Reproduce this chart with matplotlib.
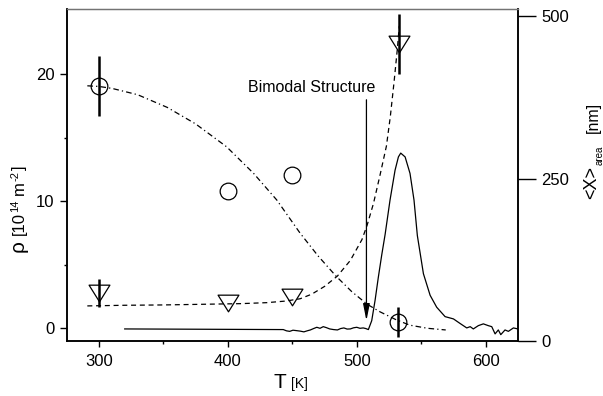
import numpy as np
import matplotlib
matplotlib.use("Agg")
import matplotlib.pyplot as plt
from matplotlib.path import Path

plt.rcParams['font.family'] = ['Liberation Sans', 'DejaVu Sans']

W, H = 603, 396

# ---- data ----
# density rho [10^14 m^-2] (open circles, left axis)
rho_T = [300, 400, 450, 532]
rho_val = [19.1, 10.8, 12.1, 0.5]
rho_err = [2.35, 0.0, 0.0, 1.2]

# mean size <X>_area [nm] (open down-triangles, right axis)
size_T = [300, 400, 450, 533]
size_val = [74, 59, 67, 457]
size_err = [22, 0, 0, 46]

# dash-dot guide through rho (left axis)
rho_fit_T = [291, 300, 310, 330, 353, 375, 399, 420, 438, 456, 470, 484, 496,
             508, 518, 530, 541, 555, 569]
rho_fit_v = [19.1, 19.05, 18.9, 18.4, 17.4, 16.1, 14.3, 12.2, 10.1, 7.5, 5.7,
             4.1, 2.9, 1.9, 1.3, 0.7, 0.25, 0.0, -0.13]

# dashed guide through <X>_area (right axis)
size_fit_T = [291, 320, 350, 380, 410, 430, 445, 456, 465, 475, 485, 495, 504,
              508, 513, 518, 523, 526, 529, 531.5, 533]
size_fit_v = [54, 55, 55.5, 56.5, 57.5, 59, 61.5, 65, 72, 84, 100, 124, 156,
              178, 212, 255, 300, 345, 400, 450, 485]

# measured signal (solid line, left axis scale)
sig_T = [320, 443, 445.5, 448, 450.5, 453, 456, 459, 461.5, 464, 466.5, 469,
         471.5, 474, 476.5, 479, 482, 485, 487.5, 490, 492.5, 495, 497.5, 500,
         502.5, 505, 507, 509, 511.6, 514.2, 516.7, 519.4, 522, 525.8, 529.7,
         532.3, 534.1, 537.5, 541.3, 544.4, 547, 551.7, 556.9, 562, 568.5, 575,
         580, 585.3, 588, 590.4, 594.3, 598.2, 602, 604.7, 607.3, 609.8, 611.7,
         615, 617.6, 621.5, 625]
sig_v = [-0.05, -0.1, -0.2, -0.24, -0.15, -0.18, -0.22, -0.28, -0.2, -0.13,
         -0.02, 0.08, 0.0, 0.13, 0.05, -0.05, -0.1, -0.13, -0.02, 0.03, -0.06,
         -0.05, 0.04, 0.08, 0.0, 0.03, -0.02, -0.1, 0.6, 2.2, 4.0, 5.8, 7.4,
         10.1, 12.45, 13.5, 13.8, 13.5, 12.2, 10.1, 7.3, 4.3, 2.6, 1.66, 0.92,
         0.74, 0.39, 0.03, 0.13, -0.05, 0.21, 0.35, 0.21, 0.13, -0.44, -0.13,
         -0.5, -0.13, -0.24, 0.03, -0.05]

x_ticks = [300, 400, 500, 600]
x_minor = [350, 450, 550]
rho_ticks = [0, 10, 20]
rho_minor = [5, 15]
size_ticks = [0, 250, 500]

arrow_T = 507.5
arrow_from = 18.0
arrow_to = 0.6
note = "Bimodal Structure"

# ---- figure ----
fig = plt.figure(figsize=(W / 100, H / 100), dpi=100)
L, R, B, T_ = 66.7, 518.3, 341, 9
ax = fig.add_axes([L / W, 1 - B / H, (R - L) / W, (B - T_) / H])
ax2 = ax.twinx()

ax.set_xlim(275, 625.3)
ax.set_ylim(-1.0, 25.15)
ax2.set_ylim(0, 511)

# signal
ax.plot(sig_T, sig_v, color='k', lw=0.9, zorder=2)
# guides
ax.plot(rho_fit_T, rho_fit_v, color='k', lw=0.9, dashes=(4.5, 2.5, 1.0, 2.5), zorder=2)
ax2.plot(size_fit_T, size_fit_v, color='k', lw=0.9, dashes=(4, 3), zorder=2)

# circles
rt = np.array(rho_T); rv = np.array(rho_val); re = np.array(rho_err)
m = re > 0
ax.errorbar(rt[m], rv[m], yerr=re[m], fmt='none', ecolor='k', elinewidth=1.8, capsize=0, zorder=3)
ax.plot(rho_T, rho_val, linestyle='none', marker='o', markersize=12,
        markerfacecolor='none', markeredgecolor='k', markeredgewidth=0.9, zorder=4)

# triangles
tri = Path([(-1, 0.8), (1, 0.8), (0, -0.8), (-1, 0.8)],
           [Path.MOVETO, Path.LINETO, Path.LINETO, Path.CLOSEPOLY])
st = np.array(size_T); sv = np.array(size_val); se = np.array(size_err)
m2 = se > 0
ax2.errorbar(st[m2], sv[m2], yerr=se[m2], fmt='none', ecolor='k', elinewidth=1.8, capsize=0, zorder=3)
ax2.plot(size_T, size_val, linestyle='none', marker=tri, markersize=15,
         markerfacecolor='none', markeredgecolor='k', markeredgewidth=0.9, zorder=4)

# annotation
ax.annotate('', xy=(arrow_T, arrow_to), xytext=(arrow_T, arrow_from),
            arrowprops=dict(arrowstyle='-|>,head_length=1.0,head_width=0.2',
                            color='k', lw=0.9, mutation_scale=10, shrinkA=0, shrinkB=0))
ax.text(416, 18.6, note, fontsize=11.5, ha='left', va='baseline')

# ticks
ax.set_xticks(x_ticks)
ax.set_xticks(x_minor, minor=True)
ax.set_yticks(rho_ticks)
ax.set_yticks(rho_minor, minor=True)
ax.tick_params(axis='both', which='both', direction='out', width=1, labelsize=12, pad=3.5,
               top=False, right=False)
ax.tick_params(axis='y', which='major', length=5.3)
ax.tick_params(axis='y', which='minor', length=2.4)
ax.tick_params(axis='x', which='major', length=4.3)
ax.tick_params(axis='x', which='minor', length=2.2)
ax.tick_params(axis='x', which='major', pad=5)
ax2.set_yticks(size_ticks)
ax2.tick_params(axis='y', which='major', direction='out', length=13, width=1,
                labelsize=12, pad=3.5)
ax2.yaxis.set_minor_locator(matplotlib.ticker.NullLocator())

for a in (ax, ax2):
    for s in ('left', 'right', 'bottom'):
        a.spines[s].set_linewidth(1.1)
        a.spines[s].set_color('k')
    a.spines['top'].set_linewidth(0.9)
    a.spines['top'].set_color('0.45')

# ---- axis labels built from pieces ----
def fx(px):
    return px / W

def fy(py):
    return 1 - py / H

# x label
fig.text(fx(273), fy(387.7), "T", fontsize=15, ha='left', va='baseline')
fig.text(fx(291), fy(387.7), "[K]", fontsize=10, ha='left', va='baseline')

# right label
fig.text(fx(596.5), fy(199), "<X>", fontsize=13, rotation=90, rotation_mode='anchor',
         ha='left', va='baseline')
fig.text(fx(602.5), fy(165), "area", fontsize=7, rotation=90, rotation_mode='anchor',
         ha='left', va='baseline')
fig.text(fx(598), fy(133), "[nm]", fontsize=11.5, rotation=90, rotation_mode='anchor',
         ha='left', va='baseline')

# left label, laid out sequentially upward
renderer = fig.canvas.get_renderer()
pieces = [("ρ", 15, 0, 0), ("[10", 12, 0, 5), ("14", 8, 5.5, 0.5),
          ("m", 12, 0, 4), ("-2", 8, 5.5, 0.5), ("]", 12, 0, 0.5)]
pos = 0.0
bx, by = 24, 252
for txt, size, shift, gap in pieces:
    pos += gap
    t = fig.text(fx(bx - shift), fy(by - pos), txt, fontsize=size, rotation=90,
                 rotation_mode='anchor', ha='left', va='baseline')
    bb = t.get_window_extent(renderer)
    pos += bb.height

fig.savefig("out.png", dpi=100)
